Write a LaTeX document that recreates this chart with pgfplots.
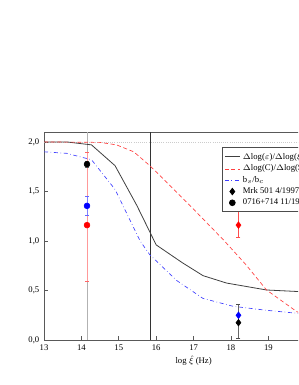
\documentclass[border=0pt]{standalone}
\usepackage{pgfplots}
\pgfplotsset{compat=1.18}
\usepackage{fontspec}
\setmainfont{Liberation Serif}
\begin{document}
\begin{tikzpicture}
\clip (0,0) rectangle (223.5pt,288.75pt);
\path[use as bounding box] (0,0) rectangle (223.5pt,288.75pt);
\begin{axis}[
  at={(33pt,33.75pt)}, anchor=south west,
  scale only axis, width=224.4pt, height=156pt,
  xmin=13, xmax=21, ymin=0, ymax=2.1,
  xtick={13,14,...,21}, ytick={0,0.5,1,1.5,2},
  xtick pos=bottom, ytick pos=left, tick align=inside,
  major tick length=3pt,
  axis line style={draw=black!65, line width=0.6pt},
  every tick/.style={black!65, line width=0.5pt},
  yticklabel style={/pgf/number format/.cd, fixed, fixed zerofill, precision=1, use comma},
  /pgf/number format/assume math mode=true,
  tick label style={font=\fontsize{6.5}{8}\selectfont},
  xlabel={log $\hat{\xi}$ (Hz)},
  xlabel style={font=\fontsize{6.5}{8}\selectfont, yshift=3pt},
  legend style={at={(axis cs:17.76,1.95)}, anchor=north west, draw=black!70, line width=0.5pt,
    font=\fontsize{6.5}{7.5}\selectfont, inner sep=1.5pt, row sep=-1.5pt, legend cell align=left},
  legend image code/.code={\draw[mark repeat=2,mark phase=2,#1] plot coordinates {(0cm,0cm) (0.2cm,0cm) (0.4cm,0cm)};},
]
\addplot[black!20, densely dotted, line width=0.6pt, forget plot] coordinates {(13,2.0) (21,2.0)};
\addplot[black!30, line width=0.7pt, forget plot] coordinates {(14.15,0) (14.15,2.1)};
\addplot[black!80, line width=0.6pt, forget plot] coordinates {(15.85,0) (15.85,2.1)};

\addplot[black!75, line width=0.6pt] coordinates {
(13,2.0)(13.6,2.0)(14.27,1.97)(14.9,1.76)(15.48,1.36)(16.0,0.96)(16.7,0.78)(17.25,0.65)(17.88,0.575)(18.95,0.505)(19.76,0.49)(21,0.48)};
\addlegendentry{$\Delta$log($\varepsilon$)/$\Delta$log($\hat{\xi}$)}
\addplot[red!75, densely dashed, line width=0.5pt] coordinates {
(13,2.0)(14.5,1.995)(14.94,1.97)(15.4,1.9)(15.83,1.76)(16.1,1.66)(16.5,1.51)(17,1.32)(17.8,1.01)(18.4,0.76)(18.95,0.505)(19.76,0.286)(21,0.1)};
\addlegendentry{$\Delta$log(C)/$\Delta$log(S)}
\addplot[blue!75, dash dot, line width=0.5pt] coordinates {
(13,1.9)(13.6,1.885)(14.27,1.82)(14.9,1.52)(15.57,1.0)(15.83,0.86)(16.55,0.6)(17.25,0.42)(18.06,0.34)(18.95,0.3)(19.76,0.27)(21,0.24)};
\addlegendentry{b$_s$/b$_c$}
\addlegendimage{only marks, mark=diamond*, mark size=2.5pt, black}
\addlegendentry{Mrk 501 4/1997}
\addlegendimage{only marks, mark=*, mark size=2.2pt, black}
\addlegendentry{0716+714 11/1995}

% data points
\addplot[only marks, mark=*, mark size=2.2pt, red, forget plot,
  error bars/.cd, y dir=both, y explicit, error bar style={red!40, line width=0.6pt}, error mark options={rotate=90, mark size=1.5pt, red!60}]
  coordinates {(14.15,1.16) += (0,0.74) -= (0,0.57)};
\addplot[only marks, mark=*, mark size=2.2pt, blue, forget plot,
  error bars/.cd, y dir=both, y explicit, error bar style={blue!50, line width=0.6pt}, error mark options={rotate=90, mark size=1.5pt, blue!60}]
  coordinates {(14.15,1.354) +- (0,0.097)};
\addplot[only marks, mark=*, mark size=2.2pt, black, forget plot,
  error bars/.cd, y dir=both, y explicit, error bar style={black!50, line width=0.6pt}, error mark options={rotate=90, mark size=1.5pt, black!60}]
  coordinates {(14.15,1.775) +- (0,0.03)};
\addplot[only marks, mark=diamond*, mark size=2.5pt, red, forget plot,
  error bars/.cd, y dir=both, y explicit, error bar style={red!70, line width=0.6pt}, error mark options={rotate=90, mark size=1.5pt, red!70}]
  coordinates {(18.2,1.16) += (0,0.14) -= (0,0.12)};
\addplot[only marks, mark=diamond*, mark size=2.5pt, blue, forget plot,
  error bars/.cd, y dir=both, y explicit, error bar style={black!60, line width=0.6pt}, error mark options={rotate=90, mark size=1.5pt, black!70}]
  coordinates {(18.2,0.25) += (0,0.11) -= (0,0.08)};
\addplot[only marks, mark=diamond*, mark size=2.5pt, black, forget plot,
  error bars/.cd, y dir=both, y explicit, error bar style={black!60, line width=0.6pt}, error mark options={rotate=90, mark size=1.5pt, black!70}]
  coordinates {(18.2,0.175) += (0,0.07) -= (0,0.155)};
\end{axis}
\end{tikzpicture}
\end{document}
